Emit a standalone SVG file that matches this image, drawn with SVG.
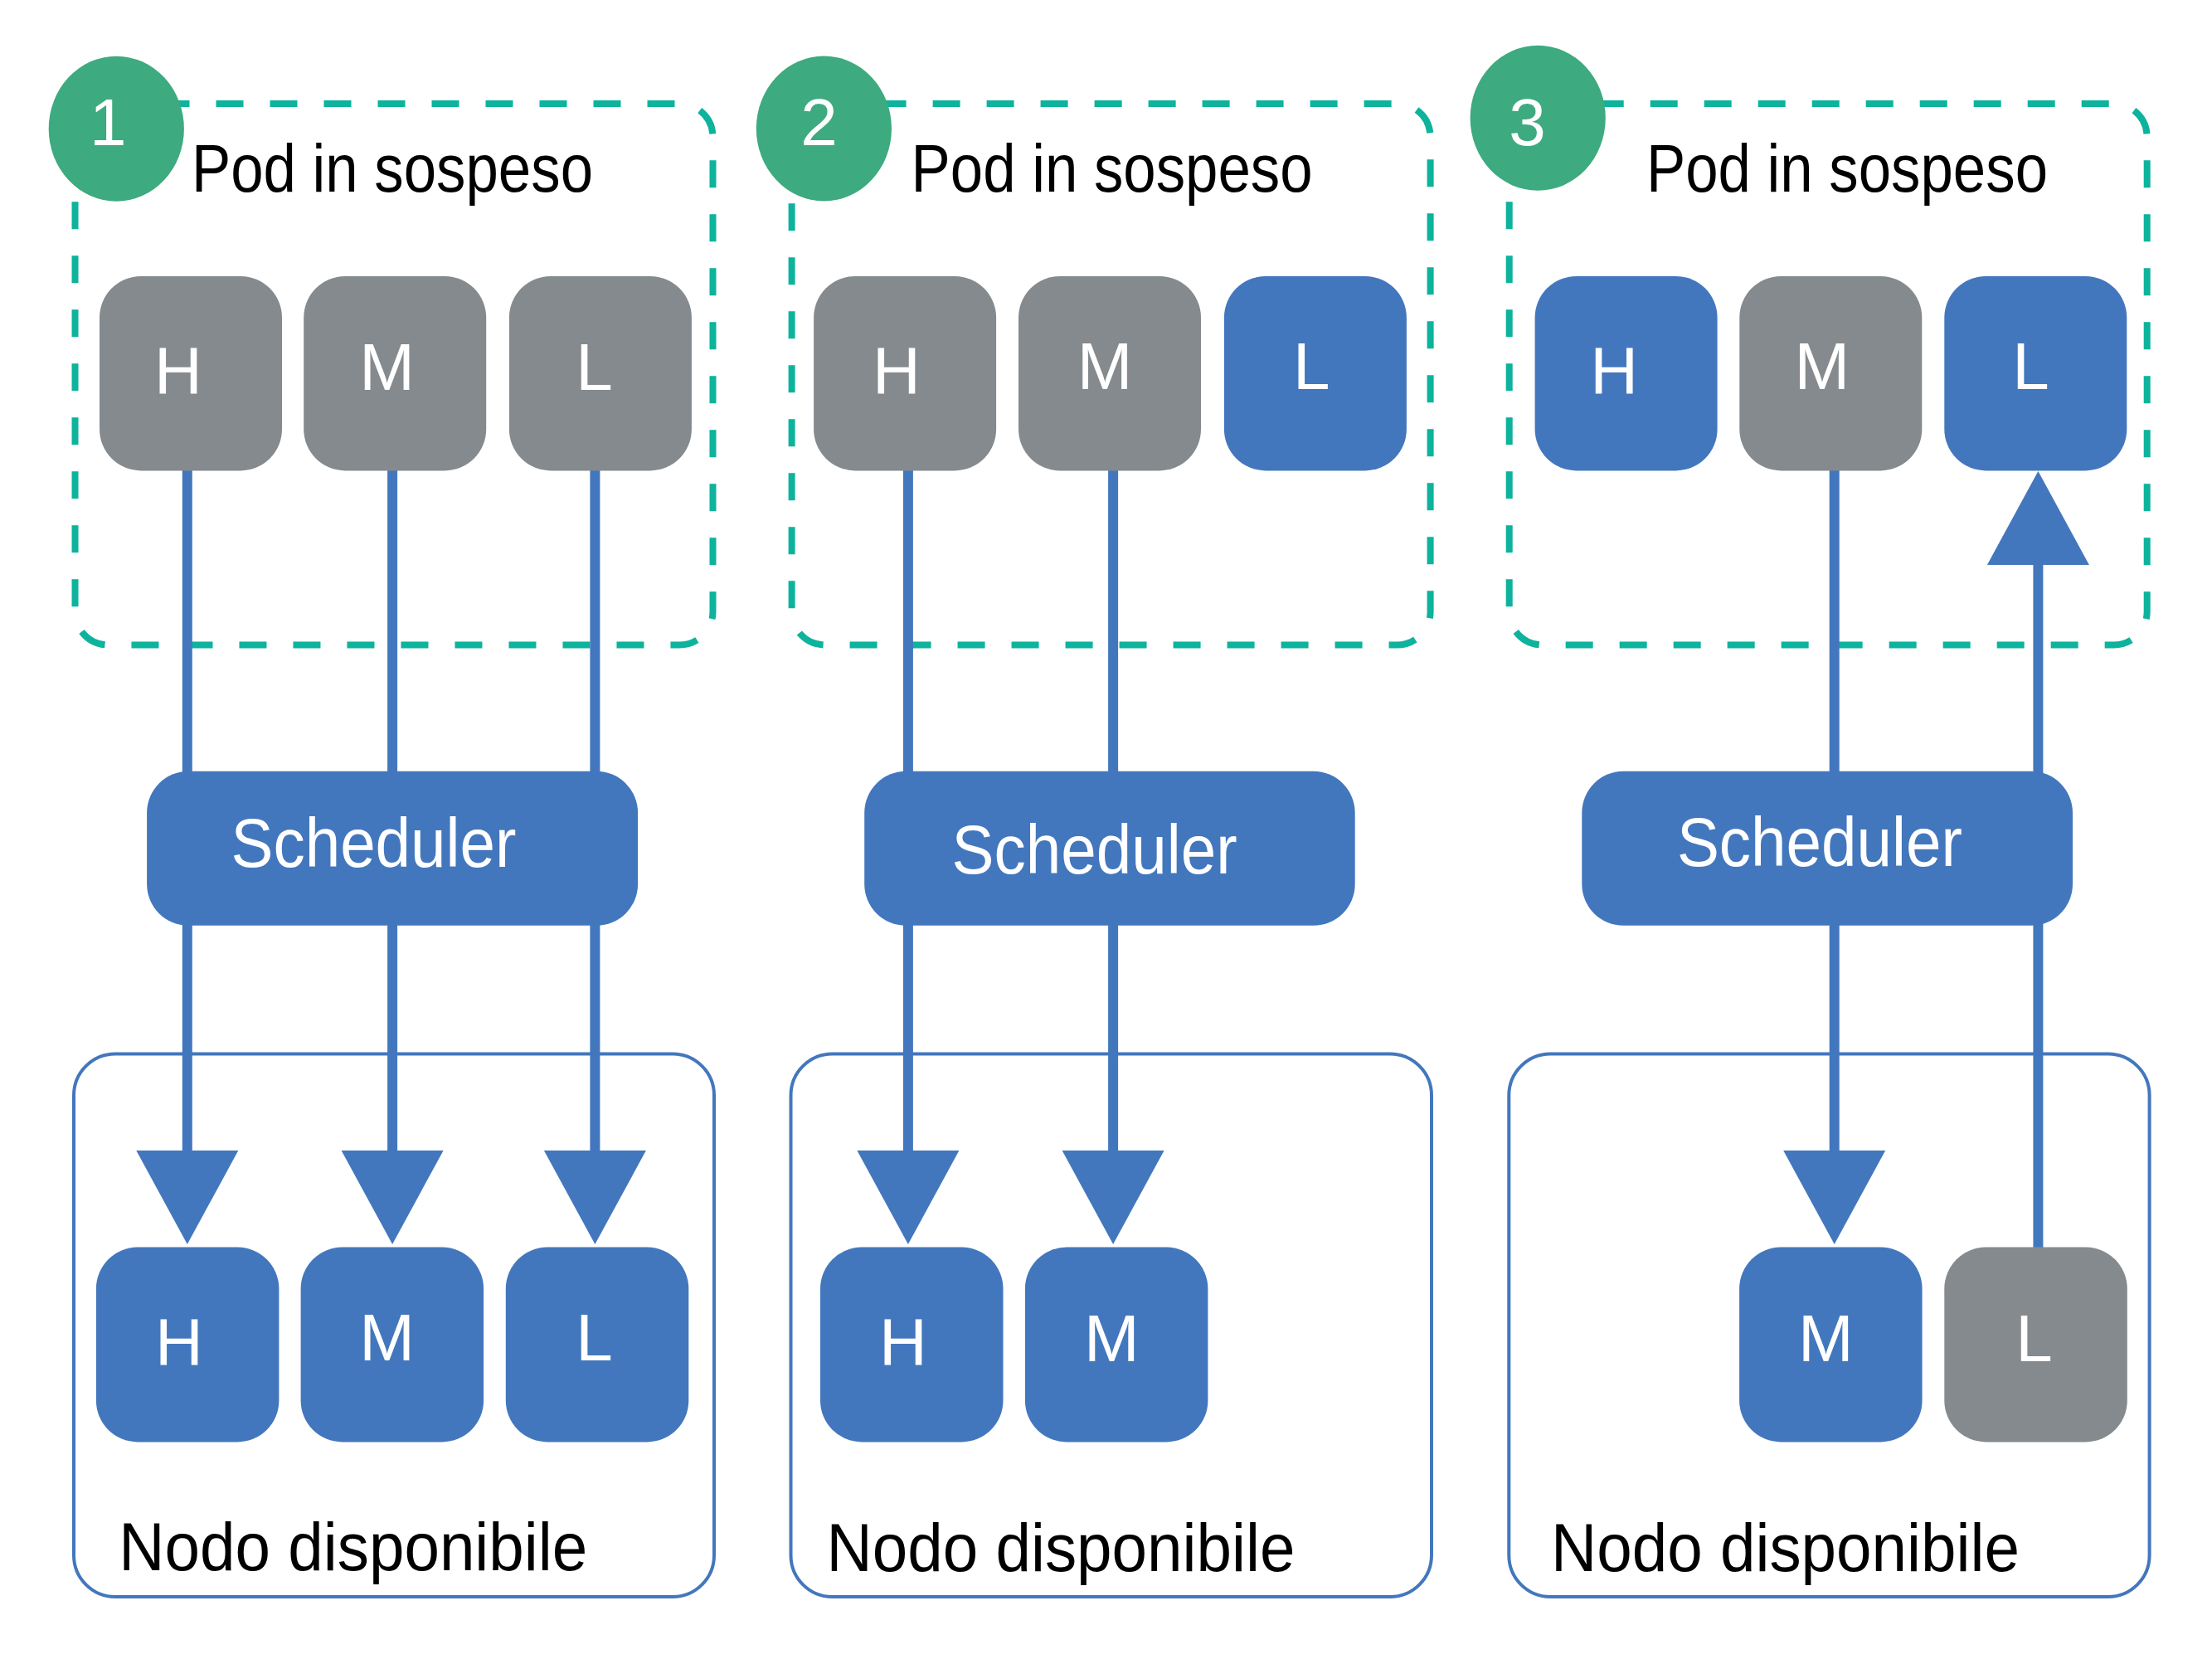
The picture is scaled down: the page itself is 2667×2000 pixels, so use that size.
<svg xmlns="http://www.w3.org/2000/svg" width="2667" height="2000" viewBox="0 0 2667 2000">
<defs>
<style>
.dash{fill:none;stroke:#0DB39C;stroke-width:8;stroke-dasharray:33 32}
.nodo{fill:none;stroke:#4377BD;stroke-width:4}
.gray{fill:#848A8D}
.blue{fill:#4377BD}
.badge{fill:#3DAA7F}
.conn{fill:none;stroke:#4377BD;stroke-width:12;marker-end:url(#arr)}
.lt{font-family:"Liberation Sans",Arial,sans-serif;font-size:80px;fill:#FFFFFF;text-anchor:middle}
.num{font-family:"Liberation Sans",Arial,sans-serif;font-size:80px;fill:#FFFFFF;text-anchor:middle}
.title{font-family:"Liberation Sans",Arial,sans-serif;font-size:82px;fill:#000000}
.sched{font-family:"Liberation Sans",Arial,sans-serif;font-size:84px;fill:#FFFFFF}
</style>
<marker id="arr" markerUnits="userSpaceOnUse" markerWidth="113" markerHeight="123" refX="0" refY="61.5" orient="auto" overflow="visible">
<path d="M0,0 L113,61.5 L0,123 Z" fill="#4377BD"/>
</marker>
</defs>
<rect width="2667" height="2000" fill="#FFFFFF"/>

<g id="containers">
<rect id="pending1" class="dash" x="90.5" y="125" width="769" height="652.5" rx="40"/>
<rect id="pending2" class="dash" x="954.6" y="125" width="770" height="652.5" rx="40"/>
<rect id="pending3" class="dash" x="1819.7" y="125" width="769" height="652.5" rx="40"/>
<rect id="node1" class="nodo" x="89" y="1270.5" width="772" height="654.5" rx="50"/>
<rect id="node2" class="nodo" x="953.5" y="1270.5" width="772.5" height="654.5" rx="50"/>
<rect id="node3" class="nodo" x="1819.3" y="1270.5" width="772.3" height="654.5" rx="50"/>
</g>

<g id="connectors">
<path class="conn" d="M225.8,567 V1387"/>
<path class="conn" d="M473.1,567 V1387"/>
<path class="conn" d="M717.4,567 V1387"/>
<path class="conn" d="M1094.9,567 V1387"/>
<path class="conn" d="M1342.1,567 V1387"/>
<path class="conn" d="M2211.7,567 V1387"/>
<path class="conn" d="M2457.4,1504 V681"/>
</g>

<g id="panel1-badge"><ellipse class="badge" cx="140.3" cy="155.2" rx="81.6" ry="87.5"/><text class="num" x="130.3" y="175">1</text></g>
<g id="panel1-title"><text class="title" x="231" y="231.1" textLength="484" lengthAdjust="spacingAndGlyphs">Pod in sospeso</text></g>
<g id="p1-pend-H"><rect class="gray" x="120" y="332.9" width="220" height="234.5" rx="50"/><text class="lt" x="215" y="473.6">H</text></g>
<g id="p1-pend-M"><rect class="gray" x="366.2" y="332.9" width="220" height="234.5" rx="50"/><text class="lt" x="466.6" y="469.6">M</text></g>
<g id="p1-pend-L"><rect class="gray" x="613.9" y="332.9" width="220" height="234.5" rx="50"/><text class="lt" x="716.4" y="469.6">L</text></g>
<g id="p1-scheduler"><rect class="blue" x="177.1" y="929.8" width="592" height="186" rx="50"/><text class="sched" x="278.5" y="1045" textLength="344" lengthAdjust="spacingAndGlyphs">Scheduler</text></g>
<g id="p1-node-H"><rect class="blue" x="115.9" y="1503.6" width="220.5" height="234.8" rx="50"/><text class="lt" x="215.9" y="1644.9">H</text></g>
<g id="p1-node-M"><rect class="blue" x="362.6" y="1503.6" width="220.5" height="234.8" rx="50"/><text class="lt" x="466.6" y="1640.3">M</text></g>
<g id="p1-node-L"><rect class="blue" x="609.8" y="1503.6" width="220.5" height="234.8" rx="50"/><text class="lt" x="716.4" y="1640.3">L</text></g>
<g id="p1-node-label"><text class="title" x="143.3" y="1893" textLength="565" lengthAdjust="spacingAndGlyphs">Nodo disponibile</text></g>

<g id="panel2-badge"><ellipse class="badge" cx="993.4" cy="155" rx="81.6" ry="87.5"/><text class="num" x="987.4" y="174.5">2</text></g>
<g id="panel2-title"><text class="title" x="1098.6" y="231.1" textLength="484" lengthAdjust="spacingAndGlyphs">Pod in sospeso</text></g>
<g id="p2-pend-H"><rect class="gray" x="981.1" y="332.9" width="220" height="234.5" rx="50"/><text class="lt" x="1081" y="473.7">H</text></g>
<g id="p2-pend-M"><rect class="gray" x="1228" y="332.9" width="220" height="234.5" rx="50"/><text class="lt" x="1332.1" y="469.1">M</text></g>
<g id="p2-pend-L"><rect class="blue" x="1475.9" y="332.9" width="220" height="234.5" rx="50"/><text class="lt" x="1581.2" y="469.1">L</text></g>
<g id="p2-scheduler"><rect class="blue" x="1042.2" y="929.8" width="591.5" height="186" rx="50"/><text class="sched" x="1147.6" y="1053" textLength="344" lengthAdjust="spacingAndGlyphs">Scheduler</text></g>
<g id="p2-node-H"><rect class="blue" x="989" y="1503.6" width="220.5" height="234.8" rx="50"/><text class="lt" x="1089" y="1644.8">H</text></g>
<g id="p2-node-M"><rect class="blue" x="1235.9" y="1503.6" width="220.5" height="234.8" rx="50"/><text class="lt" x="1340.2" y="1640.8">M</text></g>
<g id="p2-node-label"><text class="title" x="996.5" y="1893.9" textLength="565" lengthAdjust="spacingAndGlyphs">Nodo disponibile</text></g>

<g id="panel3-badge"><ellipse class="badge" cx="1854.2" cy="142.3" rx="81.6" ry="87.5"/><text class="num" x="1841.6" y="175.3">3</text></g>
<g id="panel3-title"><text class="title" x="1985" y="231.1" textLength="484" lengthAdjust="spacingAndGlyphs">Pod in sospeso</text></g>
<g id="p3-pend-H"><rect class="blue" x="1850.6" y="332.9" width="220" height="234.5" rx="50"/><text class="lt" x="1946.1" y="473.7">H</text></g>
<g id="p3-pend-M"><rect class="gray" x="2097.3" y="332.9" width="220" height="234.5" rx="50"/><text class="lt" x="2196.8" y="469.1">M</text></g>
<g id="p3-pend-L"><rect class="blue" x="2344.3" y="332.9" width="220" height="234.5" rx="50"/><text class="lt" x="2448.4" y="469.1">L</text></g>
<g id="p3-scheduler"><rect class="blue" x="1907.3" y="929.8" width="591.7" height="186" rx="50"/><text class="sched" x="2021.9" y="1043.9" textLength="344" lengthAdjust="spacingAndGlyphs">Scheduler</text></g>
<g id="p3-node-M"><rect class="blue" x="2097.1" y="1503.6" width="220.5" height="234.8" rx="50"/><text class="lt" x="2201.3" y="1640.8">M</text></g>
<g id="p3-node-L"><rect class="gray" x="2344.3" y="1503.6" width="220.5" height="234.8" rx="50"/><text class="lt" x="2452.4" y="1640.8">L</text></g>
<g id="p3-node-label"><text class="title" x="1870" y="1893.9" textLength="565" lengthAdjust="spacingAndGlyphs">Nodo disponibile</text></g>
</svg>
